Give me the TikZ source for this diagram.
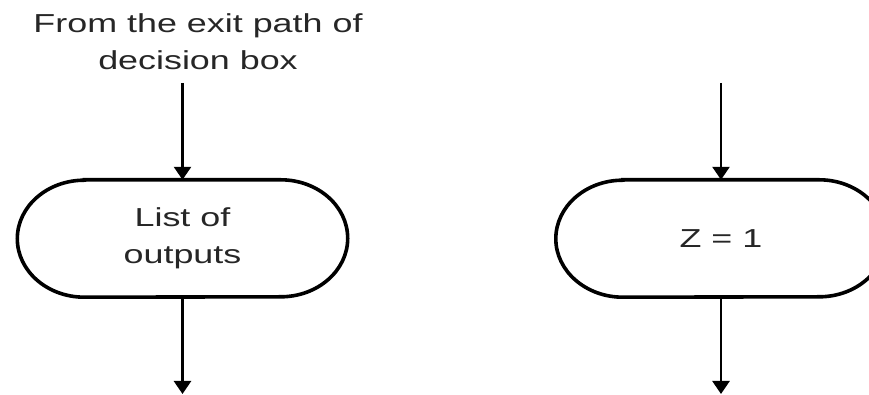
\documentclass[tikz,border=0pt]{standalone}
\usepackage{fontspec}
\setmainfont{Liberation Sans}
\usetikzlibrary{arrows.meta,calc}
\newcommand{\widetxt}[1]{\scalebox{1.38}[1]{#1}}
\begin{document}
\begin{tikzpicture}[x=1pt,y=1pt,
  lbl/.style={inner sep=0pt,align=center,text=black!85,font=\fontsize{26}{37}\selectfont},
  term/.style={draw=none,minimum width=330pt,minimum height=117pt,inner sep=0pt,align=center,text=black!85,font=\fontsize{26}{37}\selectfont},
  outline/.style={line width=3.6pt,black},
  conn/.style={line width=2.6pt,black,-{Triangle[width=17pt,length=13pt]}}]
\useasboundingbox (0,0) rectangle (869,395);
\clip (0,0) rectangle (869,395);
\node[lbl] (top) at (198,353) {\widetxt{From the exit path of}\\\widetxt{decision box}};
\node[term] (t1) at (182.5,156.5) {\widetxt{List of}\\\widetxt{outputs}};
\node[term] (t2) at (721,156.5) {\widetxt{Z = 1}};
\foreach \n in {t1,t2}{
  \draw[outline] ($(\n.north west)+(67,0)$) -- ($(\n.north east)+(-67,0)$)
    arc[start angle=90,end angle=-90,x radius=67pt,y radius=58.5pt]
    -- ($(\n.south west)+(67,0)$)
    arc[start angle=270,end angle=90,x radius=67pt,y radius=58.5pt] -- cycle;
}
\coordinate (s1) at (182.5,312);
\coordinate (e1) at (182.5,1);
\coordinate (s2) at (721,312);
\coordinate (e2) at (721,1);
\draw[conn] (s1) -- (t1.north);
\draw[conn] (t1.south) -- (e1);
\draw[conn] (s2) -- (t2.north);
\draw[conn] (t2.south) -- (e2);
\end{tikzpicture}
\end{document}
